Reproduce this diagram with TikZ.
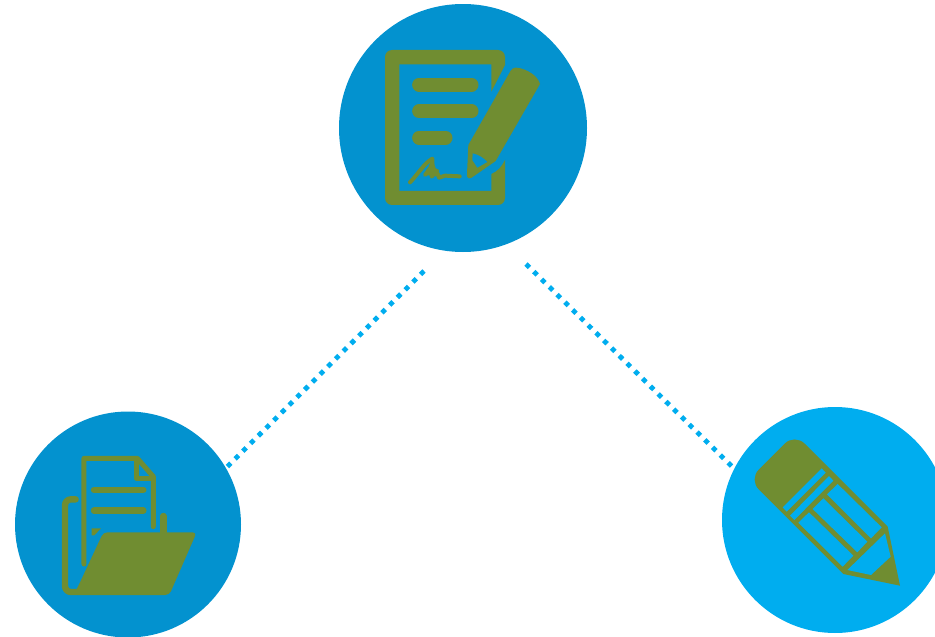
\documentclass[tikz,border=0pt]{standalone}
\definecolor{topblue}{HTML}{0392CF}
\definecolor{lightblue}{HTML}{00ADEF}
\definecolor{icongreen}{HTML}{708D31}
\tikzset{
    badge/.style={circle, inner sep=0pt, fill=#1},
    dotline/.style={lightblue, line width=4.8pt, dash pattern=on 4.8pt off 6.1pt},
    iconline/.style={icongreen, line cap=round, line join=round}
}
\begin{document}
\begin{tikzpicture}[x=1pt, y=-1pt]
    \useasboundingbox (0,0) rectangle (935,637);

    % Badges
    \node[badge=topblue, minimum size=248pt] (signnode) at (463,128) {};
    \node[badge=topblue, minimum size=226pt] (filesnode) at (128,524.5) {};
    \node[badge=lightblue, minimum size=226pt] (pencilnode) at (835,520) {};

    % Dotted links
    \coordinate (signleft) at (424,271); \coordinate (signright) at (526,264);
    \draw[dotline] (signleft) -- (filesnode.30);
    \draw[dotline] (signright) -- (pencilnode.153);

    % Signed sheet
    \begin{scope}[shift={(339,0)}, scale=1/3]
        \fill[icongreen] (457,275) -- (457,193) -- (181,193) -- (181,573) -- (457,573) -- (457,522)
            .. controls (475,515) and (488,500) .. (498,480)
            [rounded corners=7pt] -- (498,615) -- (138,615) -- (138,150) -- (498,150) [sharp corners] -- (498,195) -- cycle;
        \foreach \ya/\xb in {254/398, 334/398, 413/320}
            \draw[iconline, line width=13.7pt] (240,\ya) -- (\xb,\ya);
        \draw[iconline, line width=4pt] (213,547) .. controls (235,525) and (255,490) .. (280,476)
            .. controls (285,495) and (268,510) .. (258,525) .. controls (270,510) and (282,505) .. (278,530)
            .. controls (288,515) and (295,512) .. (300,533) -- (318,527) -- (362,529);
        \fill[icongreen] (280,472) -- (290,505) -- (300,510) -- (296,530) -- (262,525) -- cycle;
        % Pen
        \fill[icongreen] (388,435) -- (515,212) .. controls (522,200) and (535,202) .. (548,206)
            .. controls (575,214) and (598,232) .. (603,252) -- (470,483) -- (398,533)
            .. controls (388,538) and (383,533) .. (384,522) -- cycle;
        \fill[topblue] (401,460) .. controls (420,464) and (435,475) .. (445,486) -- (415,503) -- (400,480) -- cycle;
    \end{scope}

    % Folder
    \begin{scope}[shift={(10,410)}, scale=1/3]
        \draw[iconline, line width=5pt] (222,462) -- (222,145) -- (382,145) -- (430,200) -- (430,350);
        \draw[iconline, line width=5pt] (380,150) -- (380,205) -- (430,205);
        \foreach \ya in {240,302}
            \draw[iconline, line width=6.4pt] (252,\ya) -- (400,\ya);
        \fill[icongreen] (245,355) -- (273,355) -- (253,376) -- (245,376) -- cycle;
        \draw[iconline, line width=6.4pt, rounded corners=6pt] (197,268) -- (165,268) -- (165,546) -- (200,546);
        \draw[iconline, line width=6.4pt] (460,318) -- (460,370);
        \fill[icongreen, rounded corners=4pt] (280,367) -- (560,367) -- (478,555) -- (190,555) -- (204,530) -- cycle;
    \end{scope}

    % Pencil
    \begin{scope}[shift={(715,405)}, scale=1/3]
        \fill[icongreen] (300,147) [rounded corners=14pt] -- (239,86) -- (101.5,223.5) -- (200,322)
            [sharp corners] -- (385,507) -- (555,542) -- (518,365) -- cycle;
        \fill[lightblue] (203,307) -- (320,190) -- (332,203) -- (215,320) -- cycle;
        \fill[lightblue] (225,332) -- (342,213) -- (355,227) -- (238,345) -- cycle;
        \fill[lightblue] (368,237) -- (500,367) -- (468,400) -- (336,268) -- cycle;
        \fill[lightblue] (325,280) -- (457,410) -- (427,442) -- (293,312) -- cycle;
        \fill[lightblue] (282,322) -- (415,452) -- (383,485) -- (250,353) -- cycle;
        \fill[lightblue] (510,385) -- (527,455) -- (468,510) -- (397,495) -- cycle;
    \end{scope}
\end{tikzpicture}
\end{document}
